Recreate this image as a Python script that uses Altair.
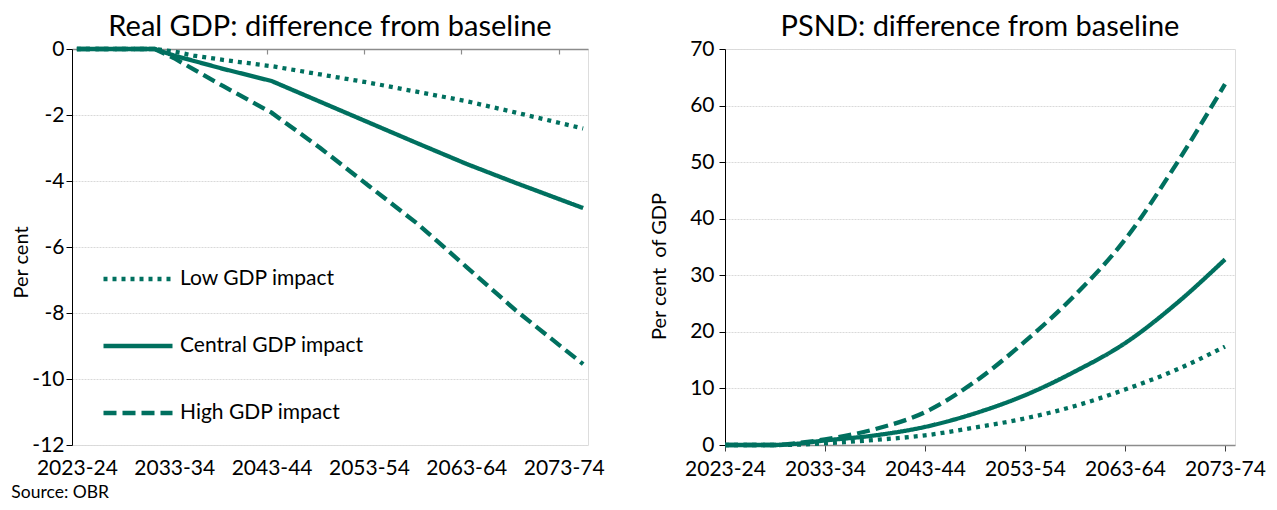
import altair as alt
import pandas as pd

# ---------------- data ----------------
series_names = ["Low GDP impact", "Central GDP impact", "High GDP impact"]

# Left panel: Real GDP, difference from baseline (per cent)
gdp_years = [2023, 2027, 2031, 2033, 2035, 2038, 2043, 2048, 2053, 2058, 2063, 2068, 2075]
gdp_low = [0, 0, 0, -0.08, -0.2, -0.33, -0.52, -0.77, -1.02, -1.3, -1.58, -1.92, -2.41]
gdp_central = [0, 0, 0, -0.2, -0.36, -0.6, -0.97, -1.6, -2.23, -2.86, -3.48, -4.05, -4.82]
gdp_high = [0, 0, 0, -0.28, -0.62, -1.12, -1.93, -3.0, -4.15, -5.3, -6.6, -7.9, -9.55]

# Right panel: PSND, difference from baseline (per cent of GDP)
psnd_years = [2023, 2028, 2030, 2033, 2038, 2043, 2048, 2053, 2058, 2063, 2068, 2073]
psnd_low = [0, 0, 0.05, 0.3, 0.9, 1.7, 3.1, 4.7, 6.9, 9.8, 13.2, 17.4]
psnd_central = [0, 0, 0.2, 0.8, 1.7, 3.2, 5.6, 8.8, 13.0, 18.0, 24.8, 32.8]
psnd_high = [0, 0, 0.3, 1.0, 2.8, 5.8, 11.2, 18.3, 26.5, 36.3, 49.3, 63.8]

label_years = [2023, 2033, 2043, 2053, 2063, 2073]
gdp_tick_years = [2032.5, 2042.5, 2052.5, 2062.5, 2072.5]
gdp_y_ticks = [-12, -10, -8, -6, -4, -2, 0]
psnd_y_ticks = [0, 10, 20, 30, 40, 50, 60, 70]


def long_table(years, series):
    rows = []
    for name, vals in zip(series_names, series):
        for yr, v in zip(years, vals):
            rows.append({"year": yr, "value": v, "series": name})
    return pd.DataFrame(rows)


df_gdp = long_table(gdp_years, [gdp_low, gdp_central, gdp_high])
df_psnd = long_table(psnd_years, [psnd_low, psnd_central, psnd_high])

# ---------------- style ----------------
FONT = "Lato"
TEAL = "#00705F"
GRID = "#d9d9d9"
AXIS_GREY = "#8c8c8c"
TICK_FS = 21
TITLE_FS = 29
YTITLE_FS = 20
year_label = "datum.value + '-' + substring(toString(datum.value + 1), 2, 4)"

dash_scale = alt.Scale(domain=series_names, range=[[4, 5], [1, 0], [13, 6]])

LW, LH = 516, 396
RW, RH = 510, 396

# ---------------- left panel ----------------
left_x_scale = alt.Scale(domain=[2022.5, 2075.5], nice=False, zero=False)

left_lines = alt.Chart(df_gdp).mark_line(color=TEAL, strokeWidth=4.3).encode(
    x=alt.X("year:Q", scale=left_x_scale,
            axis=alt.Axis(orient="bottom", values=label_years, labelExpr=year_label,
                          domain=False, ticks=False, grid=False, title=None,
                          labelFontSize=TICK_FS, labelPadding=12, labelColor="black",
                          labelFont=FONT, labelFlush=False, labelOverlap=False)),
    y=alt.Y("value:Q", scale=alt.Scale(domain=[-12, 0], nice=False),
            axis=alt.Axis(values=gdp_y_ticks, labelExpr="toString(datum.value)",
                          title="Per cent", titleFontSize=YTITLE_FS, titleFontWeight="normal",
                          titleFont=FONT, titleColor="black", titleY=213,
                          titleAlign="center", titleAngle=270, titlePadding=0,
                          labelFontSize=TICK_FS, labelColor="black", labelFont=FONT,
                          labelPadding=2, domainColor="black", domainWidth=1,
                          tickColor="black", tickSize=6,
                          gridColor=GRID, gridDash=[2, 1], gridWidth=1)),
    strokeDash=alt.StrokeDash("series:N", scale=dash_scale, sort=series_names,
                              legend=alt.Legend(title=None, orient="none", legendX=29,
                                                legendY=193, symbolType="stroke",
                                                symbolSize=4761, symbolStrokeWidth=4.3,
                                                symbolStrokeColor=TEAL, labelFontSize=TICK_FS,
                                                labelFont=FONT, labelColor="black",
                                                labelLimit=400, rowPadding=20, labelOffset=5,
                                                direction="vertical")),
)

left_zero_axis = alt.Chart(df_gdp).mark_line(opacity=0).encode(
    x=alt.X("year:Q", scale=left_x_scale,
            axis=alt.Axis(orient="bottom", offset=-LH, values=gdp_tick_years,
                          labels=False, grid=False, title=None,
                          domainColor=AXIS_GREY, domainWidth=1.5,
                          tickColor=AXIS_GREY, tickSize=5, tickWidth=1.2)),
    y=alt.Y("value:Q", scale=alt.Scale(domain=[-12, 0], nice=False)),
    detail="series:N",
)

left = alt.layer(left_lines, left_zero_axis).resolve_axis(x="independent").properties(
    width=LW, height=LH,
    title=alt.Title("Real GDP: difference from baseline", fontSize=TITLE_FS, font=FONT,
                    fontWeight="normal", color="black", anchor="middle", offset=-4),
)

# ---------------- right panel ----------------
right = alt.Chart(df_psnd).mark_line(color=TEAL, strokeWidth=4.3, interpolate="monotone").encode(
    x=alt.X("year:Q", scale=alt.Scale(domain=[2023, 2074], nice=False, zero=False),
            axis=alt.Axis(values=label_years, labelExpr=year_label, grid=False, title=None,
                          labelFontSize=TICK_FS, labelPadding=7, labelColor="black",
                          labelFont=FONT, labelFlush=False, labelOverlap=False,
                          domainColor=AXIS_GREY, domainWidth=1.5,
                          tickColor="#404040", tickSize=6)),
    y=alt.Y("value:Q", scale=alt.Scale(domain=[0, 70], nice=False),
            axis=alt.Axis(values=psnd_y_ticks, title="Per cent\u00a0 of GDP",
                          titleFontSize=YTITLE_FS, titleFontWeight="normal", titleFont=FONT,
                          titleColor="black", titleY=217, titleAlign="center",
                          titleAngle=270, titlePadding=20,
                          labelFontSize=TICK_FS, labelColor="black", labelFont=FONT,
                          labelPadding=5, domainColor="black", domainWidth=1,
                          tickColor="black", tickSize=6,
                          gridColor=GRID, gridDash=[2, 1], gridWidth=1)),
    strokeDash=alt.StrokeDash("series:N", scale=dash_scale, sort=series_names, legend=None),
).properties(
    width=RW, height=RH,
    title=alt.Title("PSND: difference from baseline", fontSize=TITLE_FS, font=FONT,
                    fontWeight="normal", color="black", anchor="middle", offset=-4),
)

chart = alt.hconcat(left, right, spacing=44).resolve_scale(strokeDash="independent").properties(
    title=alt.Title("Source: OBR", orient="bottom", anchor="start", frame="bounds",
                    fontSize=17.5, font=FONT, fontWeight="normal", color="black", offset=4),
    padding={"left": 3, "top": 4, "right": 0, "bottom": 0},
).configure_view(stroke=None).configure(font=FONT)

chart.save("out.html", embed_options={"renderer": "svg", "actions": False})
